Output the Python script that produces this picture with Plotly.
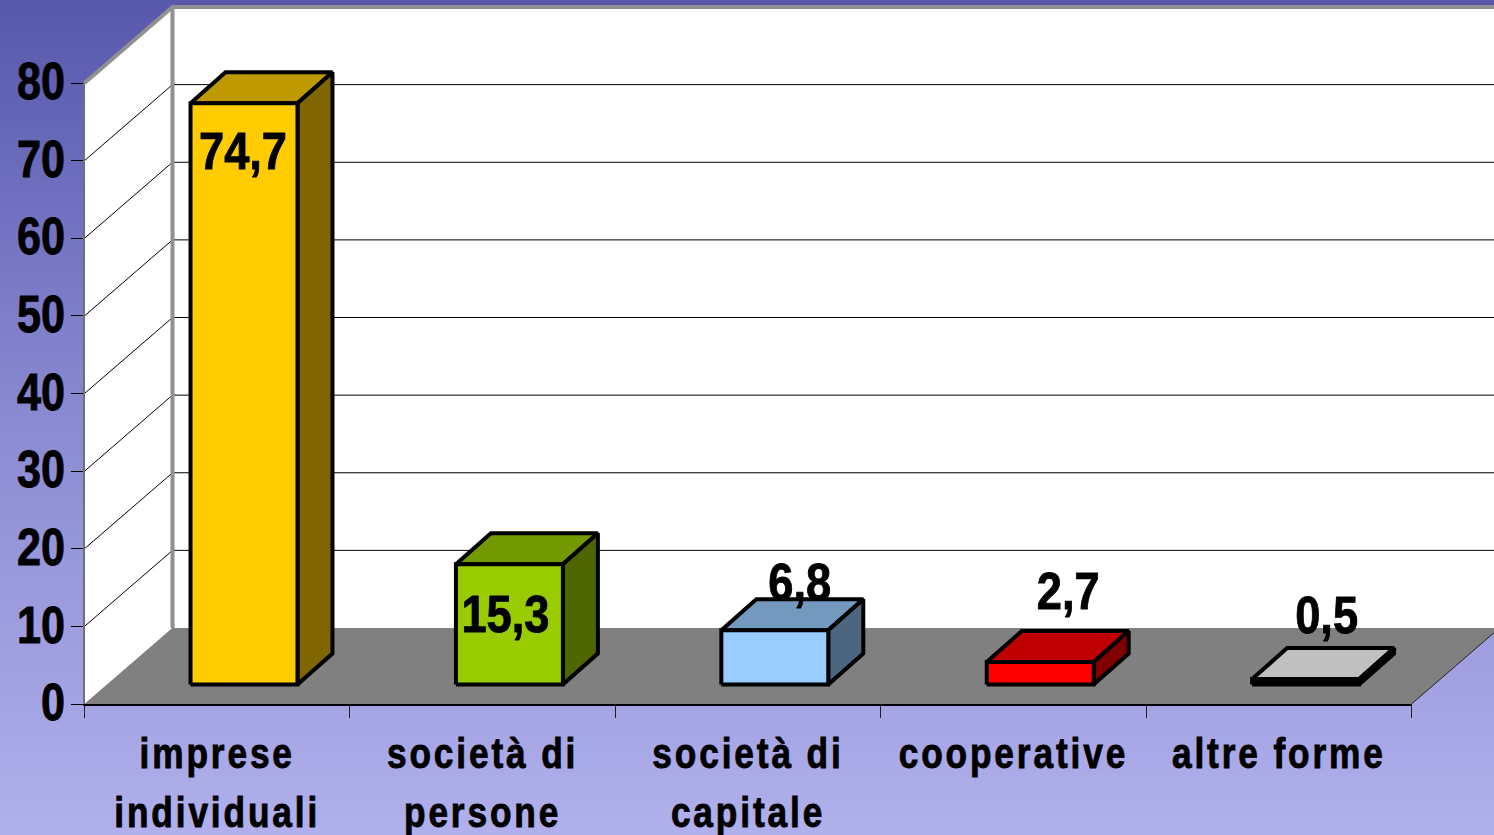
import plotly.graph_objects as go

# ---- data ----
categories = ["imprese<br>individuali", "società di<br>persone", "società di<br>capitale", "cooperative", "altre forme"]
values = [74.7, 15.3, 6.8, 2.7, 0.5]
value_labels = ["74,7", "15,3", "6,8", "2,7", "0,5"]
y_ticks = [0, 10, 20, 30, 40, 50, 60, 70, 80]

# ---- styling ----
front_colors = ["#FFCC00", "#99CC00", "#99CCFF", "#FF0000", "#000000"]
top_colors = ["#BF9900", "#739900", "#7399BF", "#BF0000", "#C0C0C0"]
side_colors = ["#806600", "#4D6600", "#4D6680", "#800000", "#000000"]
label_dx_px = [-1, -4, 25, 28, 21]
label_dy_px = [51, 53, -45, -68, -61]

W, H = 1494, 835
X0, X1, Y0, Y80 = 84.5, 1411.5, 704, 83  # pixel box of the axes
UX = (X1 - X0) / 5
UY = (Y0 - Y80) / 80
WALL_DX, WALL_DY = 88, 76               # depth of the box in px
BAR_LIFT = 19.5                         # front of bars above the axis, px
BAR_DX, BAR_DY = 35, 31                 # depth of a bar, px
BAR_HEIGHT_GAIN = 1.5                   # front faces stand this many px taller, px
BAR_START, BAR_WIDTH = 0.3995, 0.403    # inside each category, axis units
FONT = "Liberation Sans, Arial, sans-serif"


def dx(px):
    return px / UX


def dy(px):
    return px / UY


def px_x(px):
    return (px - X0) / UX


def px_y(px):
    return (Y0 - px) / UY


fig = go.Figure()


def poly(xs, ys, fill, line=None, width=0):
    fig.add_trace(go.Scatter(
        x=xs, y=ys, mode="lines", fill="toself", fillcolor=fill,
        line=dict(color=line or fill, width=width),
        hoverinfo="skip", showlegend=False))


def seg(xs, ys, color="#000000", width=1):
    fig.add_trace(go.Scatter(
        x=xs, y=ys, mode="lines", line=dict(color=color, width=width),
        hoverinfo="skip", showlegend=False))


# page background
fig.add_trace(go.Scatter(
    x=[px_x(0), px_x(W), px_x(W), px_x(0), px_x(0)],
    y=[px_y(0), px_y(0), px_y(H), px_y(H), px_y(0)],
    mode="lines", line=dict(width=0), fill="toself",
    fillgradient=dict(type="vertical",
                      colorscale=[[0, "#B0B0EC"], [0.5, "#8A8AD2"], [1, "#5757AD"]]),
    hoverinfo="skip", showlegend=False))

wx, wy = dx(WALL_DX), dy(WALL_DY)
# walls and floor
poly([0, wx, wx, 0], [0, wy, 80 + wy, 80], "#FFFFFF")
poly([wx, 5 + wx, 5 + wx, wx], [wy, wy, 80 + wy, 80 + wy], "#FFFFFF")
poly([0, wx, 5 + wx, 5], [0, wy, wy, 0], "#808080")
seg([5, 5 + wx], [0, wy], "#202020", 1)

# gridlines on the walls
for v in y_ticks[1:]:
    seg([0, wx, 5 + wx], [v, v + wy, v + wy], "#000000", 1)

# frame of the box
seg([0, wx, 5 + wx], [80, 80 + wy, 80 + wy], "#909090", 4)
seg([wx, wx], [wy, 80 + wy], "#909090", 4)

# bars
ly, bx, by, gain = dy(BAR_LIFT), dx(BAR_DX), dy(BAR_DY), dy(BAR_HEIGHT_GAIN)
for i, v in enumerate(values):
    l = i + BAR_START
    r = l + BAR_WIDTH
    h = v + gain
    poly([l, r, r + bx, l + bx, l], [ly + h, ly + h, ly + h + by, ly + h + by, ly + h],
         top_colors[i], "#000000", 4)
    poly([r, r + bx, r + bx, r, r], [ly, ly + by, ly + h + by, ly + h, ly],
         side_colors[i], "#000000", 4)
    poly([l, r, r, l, l], [ly, ly, ly + h, ly + h, ly],
         front_colors[i], "#000000", 4)

# value labels
fig.add_trace(go.Scatter(
    x=[i + BAR_START + BAR_WIDTH / 2 + dx(label_dx_px[i]) for i in range(len(values))],
    y=[ly + values[i] - dy(label_dy_px[i]) for i in range(len(values))],
    mode="text", text=value_labels, textposition="middle center",
    textfont=dict(family=FONT, size=52, color="#000000", weight="bold"),
    hoverinfo="skip", showlegend=False))

# empty trace that carries the real, visible axes
fig.add_trace(go.Scatter(x=[None], y=[None], xaxis="x2", yaxis="y2", mode="lines",
                         hoverinfo="skip", showlegend=False))

fig.update_layout(
    width=W, height=H, margin=dict(l=0, r=0, t=0, b=0, autoexpand=False),
    paper_bgcolor="#8A8AD2", plot_bgcolor="rgba(0,0,0,0)", showlegend=False,
    xaxis=dict(domain=[0, 1], range=[px_x(0), px_x(W)], visible=False),
    yaxis=dict(domain=[0, 1], range=[px_y(H), px_y(0)], visible=False),
    xaxis2=dict(
        domain=[X0 / W, X1 / W], range=[0, 5], showgrid=False, zeroline=False, anchor="y2",
        tickmode="array", tickvals=[i + 0.5 for i in range(5)], ticktext=categories,
        ticks="", ticklen=0, showline=True, linecolor="#000000", linewidth=2,
        tickfont=dict(family=FONT, size=43, color="#000000", weight="bold"),
        ticklabelstandoff=10,
        minor=dict(tickmode="array", tickvals=[0, 1, 2, 3, 4, 5], ticks="outside",
                   ticklen=12, tickcolor="#202020", tickwidth=1, showgrid=False),
    ),
    yaxis2=dict(
        domain=[(H - Y0) / H, (H - Y80) / H], range=[0, 80], showgrid=False, zeroline=False,
        anchor="x2", tickmode="array", tickvals=y_ticks, ticks="outside", ticklen=12,
        tickcolor="#000000", tickwidth=1, showline=True, linecolor="#707070", linewidth=2,
        tickfont=dict(family=FONT, size=52, color="#000000", weight="bold"),
        ticklabelstandoff=-5,
    ),
)

post = """
document.body.style.margin='0';
document.body.style.overflow='hidden';
function squeeze(t, s, right, up){
  var b = t.getBBox();
  var c = right ? b.x + b.width : b.x + b.width / 2;
  var old = t.getAttribute('transform') || '';
  t.setAttribute('transform', old + ' translate(' + c + ',' + (-up) + ') scale(' + s + ',1) translate(' + (-c) + ',0)');
  t.style.stroke = '#000000';
  t.style.strokeWidth = '0.9px';
}
document.querySelectorAll('.xtick text, .x2tick text').forEach(function(t){
  t.style.letterSpacing='3.5px';
  t.querySelectorAll('tspan.line').forEach(function(s,i){ if(i>0){ s.setAttribute('dy','59'); } });
  squeeze(t, 0.82, false, 0);
});
document.querySelectorAll('.ytick text, .y2tick text').forEach(function(t){ squeeze(t, 0.83, true, 2); });
document.querySelectorAll('.textpoint text').forEach(function(t){ squeeze(t, 0.87, false, 0); });
"""
fig.write_html("out.html", post_script=post, config=dict(displayModeBar=False))
